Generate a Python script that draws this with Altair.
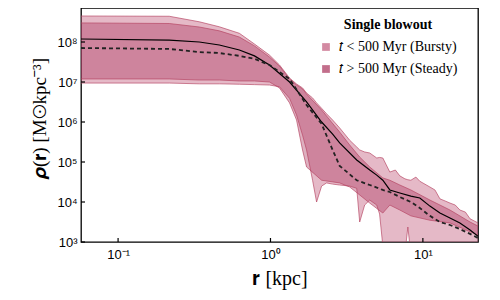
import altair as alt
import pandas as pd

# ---- data ----
BURSTY = "𝑡 < 500 Myr (Bursty)"
STEADY = "𝑡 > 500 Myr (Steady)"

# bursty (t < 500 Myr) band
b_r  = [0.0571, 0.2166, 0.341, 0.4617, 0.625, 0.785, 0.985, 1.146, 1.334, 1.483, 1.623, 1.725,
        1.889, 2.007, 2.165, 2.335, 2.558, 2.844, 3.31, 3.68, 3.85, 4.15, 4.48, 4.98, 5.2, 5.46,
        6.07, 6.6, 7.06, 7.62, 7.97, 8.34, 9.0, 9.55, 11.12, 12.0, 12.94, 14.0, 15.06, 16.3,
        17.5, 19.0, 20.4, 23.0]
b_lo = [9.4e6, 9.4e6, 9.0e6, 9.0e6, 8.8e6, 8.6e6, 8.4e6, 7.6e6, 3.9e6, 1.5e6, 4.7e5, 2.0e5,
        3.5e4, 1.0e4, 2.5e4, 3.0e4, 2.8e4, 2.66e4, 2.5e4, 2.2e4, 3.16e3, 8.4e3, 1.12e4, 8.4e3, 5.0e3, 8e2,
        5e2, 5e2, 5e2, 5e2, 2.37e3, 5e2, 5e2, 5e2, 5e2, 5e2, 5e2, 5e2, 5e2, 5e2,
        5e2, 5e2, 5e2, 5e2]
b_hi = [4.47e8, 4.4e8, 3.2e8, 2.4e8, 1.65e8, 8.9e7, 4.7e7, 2.66e7, 1.26e7, 8.9e6, 7.1e6, 5.3e6,
        4.0e6, 3.0e6, 2.2e6, 1.6e6, 1.12e6, 7.1e5, 3.5e5, 2.37e5, 2.0e5, 1.78e5, 1.68e5, 1.26e5, 1.3e5, 1.26e5,
        5.6e4, 6.3e4, 4.5e4, 3.8e4, 3.6e4, 3.5e4, 4.2e4, 3.3e4, 2.37e4, 2.0e4, 1.2e4, 1.06e4, 9.4e3, 8.4e3,
        6.3e3, 5.6e3, 3.8e3, 3.0e3]

# steady (t > 500 Myr) band
s_r  = [0.0571, 0.2166, 0.341, 0.4617, 0.625, 0.785, 0.985, 1.146, 1.334, 1.483, 1.623, 1.725,
        2.165, 2.844, 3.31, 3.85, 4.48, 5.46, 6.07, 7.06, 8.34, 11.12, 15.06, 20.4, 23.0]
s_lo = [1.19e7, 1.19e7, 1.12e7, 1.12e7, 1.06e7, 1.06e7, 1.0e7, 7.1e6, 3.0e6, 1.12e6, 2.0e5, 7.5e4,
        3.5e4, 3.0e4, 2.37e4, 1.5e4, 9.4e3, 5.3e3, 8.4e3, 6.3e3, 4.5e3, 3.5e3, 3.0e3, 1.8e3, 1.5e3]
s_hi = [3.0e8, 2.9e8, 2.37e8, 1.9e8, 1.33e8, 8.0e7, 4.2e7, 2.5e7, 1.19e7, 8.4e6, 6.7e6, 5.0e6,
        2.0e6, 5.6e5, 2.66e5, 1.33e5, 7.5e4, 4.0e4, 3.5e4, 2.66e4, 2.0e4, 1.12e4, 6.3e3, 3.16e3, 2.5e3]

# median profiles
m_r      = [0.0571, 0.2166, 0.341, 0.4617, 0.625, 0.785, 0.985, 1.334, 1.725, 2.165, 2.558, 2.844,
            3.68, 4.48, 4.98, 5.46, 6.07, 7.06, 8.34, 9.55, 11.12, 12.94, 15.06, 17.5, 20.4, 23.0]
solid_v  = [1.19e8, 1.12e8, 1.0e8, 8.4e7, 6.3e7, 4.5e7, 2.66e7, 1.0e7, 3.2e6, 1.0e6, 5.0e5, 3.0e5,
            1.12e5, 6.3e4, 4.7e4, 3.5e4, 2.0e4, 1.68e4, 1.4e4, 1.26e4, 7.9e3, 5.3e3, 4.0e3, 3.0e3, 2.0e3, 1.4e3]
dashed_v = [7.08e7, 6.7e7, 5.6e7, 5.3e7, 4.5e7, 3.8e7, 2.66e7, 1.2e7, 2.66e6, 9.0e5, 2.0e5, 8.0e4,
            3.5e4, 2.66e4, 2.3e4, 2.0e4, 1.78e4, 1.33e4, 1.0e4, 7.1e3, 4.5e3, 3.16e3, 2.66e3, 2.1e3, 1.6e3, 1.26e3]

x_ticks = [0.1, 1, 10]
y_ticks = [1e3, 1e4, 1e5, 1e6, 1e7, 1e8]
X_MIN, X_MAX = 0.0571, 23.0
Y_MIN, Y_MAX = 1e3, 7.08e8

# ---- tables ----
bands = pd.concat([
    pd.DataFrame({"r": b_r, "lo": b_lo, "hi": b_hi, "band": BURSTY}),
    pd.DataFrame({"r": s_r, "lo": s_lo, "hi": s_hi, "band": STEADY}),
])
edges = pd.concat([
    pd.DataFrame({"r": b_r, "v": b_lo, "edge": "b_lo"}),
    pd.DataFrame({"r": b_r, "v": b_hi, "edge": "b_hi"}),
    pd.DataFrame({"r": s_r, "v": s_lo, "edge": "s_lo"}),
    pd.DataFrame({"r": s_r, "v": s_hi, "edge": "s_hi"}),
])
med = pd.DataFrame({"r": m_r, "solid": solid_v, "dashed": dashed_v})
xt = pd.DataFrame({"r": x_ticks, "y0": Y_MIN, "y1": Y_MIN * 10 ** (4 / 40)})
yt = pd.DataFrame({"v": y_ticks, "x0": X_MIN, "x1": X_MIN * 10 ** (4 / 152)})

sup = "{'-1':'⁻¹','0':'⁰','1':'¹','2':'²','3':'³','4':'⁴','5':'⁵','6':'⁶','7':'⁷','8':'⁸','9':'⁹'}"
lab = f"'10' + {sup}['' + round(log(datum.value)/LN10)]"

xscale = alt.Scale(type="log", domain=[X_MIN, X_MAX], nice=False)
yscale = alt.Scale(type="log", domain=[Y_MIN, Y_MAX], nice=False)
xaxis = alt.Axis(values=x_ticks, ticks=False, grid=False, domain=False, labelExpr=lab,
                 labelFont="Liberation Sans", labelFontSize=13, labelPadding=6, labelColor="black",
                 title="𝐫 [kpc]", titleFont="Liberation Serif", titleFontSize=20,
                 titleFontWeight="normal", titlePadding=7, titleColor="black")
yaxis = alt.Axis(values=y_ticks, ticks=False, grid=False, domain=False, labelExpr=lab,
                 labelFont="Liberation Sans", labelFontSize=13, labelPadding=4, labelColor="black",
                 title="𝝆(𝐫) [M⊙kpc⁻³]", titleFont="Liberation Serif", titleFontSize=19,
                 titleFontWeight="normal", titlePadding=7, titleColor="black", titleY=110)

X = alt.X("r:Q", scale=xscale, axis=xaxis)
color = alt.Color("band:N",
                  scale=alt.Scale(domain=[BURSTY, STEADY], range=["#c0587a", "#a8305a"]),
                  legend=alt.Legend(title="Single blowout", orient="none", legendX=238, legendY=10,
                                    titleFont="Liberation Serif", titleFontSize=14, titleFontWeight="bold",
                                    titleAnchor="middle", titleColor="black", titlePadding=8,
                                    labelFont="Liberation Serif", labelFontSize=14, labelColor="black",
                                    symbolType="square", symbolSize=60, symbolOpacity=0.7,
                                    symbolStrokeWidth=0, rowPadding=8, labelOffset=6, padding=0))

area_b = alt.Chart(bands).transform_filter(alt.datum.band == BURSTY).mark_area(
    opacity=0.42, clip=True).encode(
    x=X, y=alt.Y("lo:Q", scale=yscale, axis=yaxis), y2="hi:Q", color=color)
area_s = alt.Chart(bands).transform_filter(alt.datum.band == STEADY).mark_area(
    opacity=0.38, clip=True).encode(
    x=X, y=alt.Y("lo:Q", scale=yscale, axis=yaxis), y2="hi:Q", color=color)

edge_lines = alt.Chart(edges).mark_line(color="#b3405f", strokeWidth=1, opacity=0.65, clip=True).encode(
    x=X, y=alt.Y("v:Q", scale=yscale, axis=yaxis), detail="edge:N")

solid = alt.Chart(med).mark_line(color="black", strokeWidth=1.2, clip=True).encode(
    x=X, y=alt.Y("solid:Q", scale=yscale, axis=yaxis))
dashed = alt.Chart(med).mark_line(color="#222222", strokeWidth=1.8, strokeDash=[4, 3], clip=True).encode(
    x=X, y=alt.Y("dashed:Q", scale=yscale, axis=yaxis))

xtick = alt.Chart(xt).mark_rule(color="black", strokeWidth=1.2).encode(
    x=X, y=alt.Y("y0:Q", scale=yscale, axis=yaxis), y2="y1:Q")
ytick = alt.Chart(yt).mark_rule(color="black", strokeWidth=1.2).encode(
    x=alt.X("x0:Q", scale=xscale, axis=xaxis), x2="x1:Q", y=alt.Y("v:Q", scale=yscale, axis=yaxis))

chart = alt.layer(area_b, area_s, edge_lines, solid, dashed, xtick, ytick).properties(
    width=397, height=234,
    autosize=alt.AutoSizeParams(type="none"),
    padding={"left": 73, "top": 0, "right": 12, "bottom": 50},
).configure_view(stroke="black", strokeWidth=1.3)

chart.save("out.html", embed_options={"renderer": "svg", "actions": False})
